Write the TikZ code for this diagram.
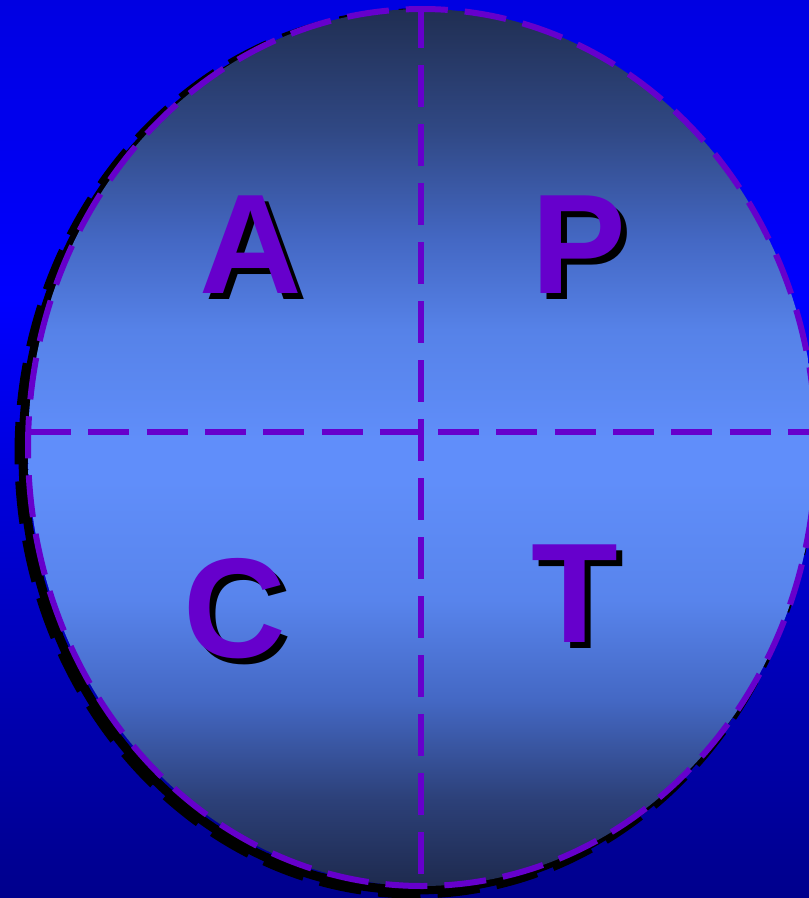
\documentclass[tikz,border=0pt]{standalone}
\usepackage{fontspec}
\setmainfont{Liberation Sans}
\definecolor{apurple}{RGB}{102,0,204}
\definecolor{bgtop}{RGB}{0,0,226}
\definecolor{bgmid}{RGB}{0,0,255}
\definecolor{bgbot}{RGB}{0,0,140}
\definecolor{fA}{RGB}{30,42,78}
\definecolor{fB}{RGB}{44,64,120}
\definecolor{fC}{RGB}{68,104,196}
\definecolor{fD}{RGB}{88,132,236}
\definecolor{fE}{RGB}{96,142,250}
\definecolor{fF}{RGB}{86,130,232}
\definecolor{fG}{RGB}{68,104,196}
\definecolor{fH}{RGB}{48,72,132}
\definecolor{fI}{RGB}{32,46,82}
\pgfdeclareverticalshading{ellfill}{100bp}{color(0bp)=(fA); color(25bp)=(fA); color(29.9bp)=(fB); color(35.6bp)=(fC); color(41.3bp)=(fD); color(48.1bp)=(fE); color(50.4bp)=(fE); color(56.7bp)=(fF); color(61.8bp)=(fG); color(68.1bp)=(fH); color(75bp)=(fI); color(100bp)=(fI)}
\begin{document}
\begin{tikzpicture}[x=1bp,y=-1bp,
  letter/.style={font=\fontsize{142bp}{150bp}\selectfont\bfseries, text=apurple, inner sep=0pt, anchor=base},
  lettershadow/.style={letter, text=black},
  rim/.style={draw=apurple, line width=6bp, dash pattern=on 42bp off 17bp},
  shadowrim/.style={draw=black, line width=13bp, dash pattern=on 42bp off 17bp},
  shadowcore/.style={draw=black, line width=9bp},
  vcross/.style={draw=apurple, line width=6bp, dash pattern=on 42bp off 17bp},
  hcross/.style={draw=apurple, line width=6bp, dash pattern=on 41bp off 17.3bp}]
\useasboundingbox (0,0) rectangle (809,898);
\clip (0,0) rectangle (809,898);
% background
\shade[top color=bgtop, bottom color=bgmid] (0,0) rectangle (809,301);
\shade[top color=bgmid, bottom color=bgbot] (0,299) rectangle (809,898);
% ellipse with shadow
\coordinate (c) at (422,447.5);
\coordinate (cs) at (415,453.5);
\draw[shadowcore] (cs) ellipse [x radius=392, y radius=436.5];
\draw[shadowrim] (cs) ellipse [x radius=394, y radius=438.5];
\shade[shading=ellfill] (c) ellipse [x radius=394, y radius=438.5];
\draw[rim] (c) ellipse [x radius=394, y radius=438.5];
% cross
\coordinate (vt) at (421,6);
\coordinate (vb) at (421,878);
\coordinate (hl) at (30,432);
\coordinate (hr) at (830,432);
\draw[vcross] (vt) -- (vb);
\draw[hcross] (hl) -- (hr);
% letters
\node[lettershadow] (As) at (257,299) {A};
\node[letter] (A) at (251,293) {A};
\node[lettershadow] (Ps) at (585,299) {P};
\node[letter] (P) at (579,293) {P};
\node[lettershadow] (Cs) at (241,663) {C};
\node[letter] (C) at (235,657) {C};
\node[lettershadow] (Ts) at (581,648) {T};
\node[letter] (T) at (575,642) {T};
\end{tikzpicture}
\end{document}
